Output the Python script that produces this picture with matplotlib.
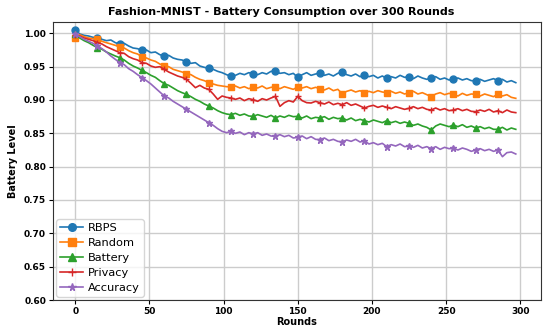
import matplotlib
matplotlib.use("Agg")
import matplotlib.pyplot as plt
import numpy as np

rounds = list(range(0, 300, 3))

rbps = [1.005, 0.999, 0.997, 0.996, 0.994,
        0.9925, 0.991, 0.989, 0.990, 0.986,
        0.984, 0.985, 0.981, 0.978, 0.977,
        0.9745, 0.975, 0.971, 0.972, 0.968,
        0.966, 0.967, 0.963, 0.961, 0.960,
        0.957, 0.955, 0.956, 0.951, 0.949,
        0.9475, 0.946, 0.943, 0.941, 0.938,
        0.9355, 0.937, 0.940, 0.938, 0.941,
        0.9395, 0.938, 0.941, 0.939, 0.943,
        0.943, 0.940, 0.941, 0.938, 0.940,
        0.934, 0.938, 0.941, 0.937, 0.939,
        0.9405, 0.937, 0.939, 0.936, 0.940,
        0.942, 0.938, 0.936, 0.939, 0.935,
        0.937, 0.935, 0.937, 0.933, 0.936,
        0.9325, 0.935, 0.933, 0.937, 0.934,
        0.935, 0.932, 0.936, 0.933, 0.931,
        0.933, 0.935, 0.931, 0.933, 0.930,
        0.9315, 0.933, 0.930, 0.932, 0.929,
        0.929, 0.931, 0.928, 0.930, 0.932,
        0.929, 0.931, 0.927, 0.929, 0.926]

random_ = [0.9935, 0.998, 0.995, 0.993, 0.992,
           0.991, 0.988, 0.986, 0.984, 0.982,
           0.9795, 0.978, 0.974, 0.971, 0.969,
           0.965, 0.963, 0.960, 0.958, 0.954,
           0.951, 0.950, 0.946, 0.944, 0.942,
           0.9395, 0.938, 0.934, 0.931, 0.929,
           0.926, 0.924, 0.922, 0.921, 0.920,
           0.9195, 0.921, 0.918, 0.920, 0.917,
           0.9195, 0.918, 0.921, 0.917, 0.919,
           0.9195, 0.917, 0.920, 0.918, 0.916,
           0.9195, 0.918, 0.920, 0.917, 0.919,
           0.917, 0.915, 0.918, 0.914, 0.916,
           0.9095, 0.913, 0.915, 0.912, 0.914,
           0.9105, 0.913, 0.911, 0.914, 0.912,
           0.911, 0.913, 0.910, 0.912, 0.909,
           0.911, 0.913, 0.909, 0.911, 0.908,
           0.905, 0.909, 0.911, 0.908, 0.910,
           0.9085, 0.906, 0.910, 0.907, 0.909,
           0.9085, 0.906, 0.909, 0.907, 0.905,
           0.909, 0.906, 0.908, 0.904, 0.9025]

battery = [0.9985, 0.993, 0.989, 0.986, 0.982,
           0.9785, 0.976, 0.972, 0.969, 0.966,
           0.9635, 0.960, 0.955, 0.951, 0.948,
           0.9445, 0.941, 0.937, 0.934, 0.929,
           0.9245, 0.922, 0.918, 0.914, 0.911,
           0.9085, 0.905, 0.901, 0.898, 0.894,
           0.891, 0.888, 0.884, 0.881, 0.879,
           0.878, 0.880, 0.877, 0.879, 0.876,
           0.8755, 0.878, 0.876, 0.874, 0.877,
           0.873, 0.876, 0.874, 0.877, 0.875,
           0.8755, 0.873, 0.876, 0.872, 0.874,
           0.873, 0.875, 0.871, 0.874, 0.872,
           0.873, 0.870, 0.873, 0.869, 0.871,
           0.869, 0.867, 0.870, 0.868, 0.866,
           0.869, 0.866, 0.868, 0.865, 0.867,
           0.865, 0.862, 0.864, 0.861, 0.859,
           0.855, 0.861, 0.864, 0.862, 0.860,
           0.8625, 0.860, 0.863, 0.859, 0.861,
           0.858, 0.860, 0.857, 0.859, 0.856,
           0.856, 0.859, 0.855, 0.858, 0.856]

privacy = [0.9975, 0.996, 0.993, 0.991, 0.989,
           0.986, 0.984, 0.980, 0.977, 0.974,
           0.971, 0.970, 0.965, 0.962, 0.960,
           0.956, 0.955, 0.951, 0.949, 0.950,
           0.946, 0.942, 0.939, 0.936, 0.934,
           0.931, 0.925, 0.9185, 0.922, 0.918,
           0.916, 0.909, 0.901, 0.906, 0.904,
           0.903, 0.901, 0.903, 0.899, 0.902,
           0.9005, 0.898, 0.902, 0.900, 0.903,
           0.9055, 0.8905, 0.896, 0.899, 0.897,
           0.9055, 0.899, 0.896, 0.8955, 0.898,
           0.896, 0.894, 0.897, 0.893, 0.895,
           0.893, 0.896, 0.892, 0.894, 0.891,
           0.888, 0.8905, 0.892, 0.889, 0.891,
           0.889, 0.887, 0.890, 0.888, 0.886,
           0.8875, 0.890, 0.887, 0.889, 0.886,
           0.885, 0.888, 0.885, 0.887, 0.884,
           0.885, 0.887, 0.884, 0.886, 0.883,
           0.8825, 0.885, 0.883, 0.886, 0.882,
           0.884, 0.881, 0.885, 0.882, 0.881]

accuracy = [0.9985, 0.995, 0.991, 0.988, 0.985,
            0.981, 0.977, 0.972, 0.966, 0.961,
            0.956, 0.953, 0.947, 0.943, 0.938,
            0.9335, 0.929, 0.924, 0.918, 0.912,
            0.906, 0.903, 0.898, 0.894, 0.890,
            0.886, 0.882, 0.878, 0.874, 0.870,
            0.866, 0.862, 0.857, 0.853, 0.851,
            0.853, 0.850, 0.852, 0.848, 0.851,
            0.849, 0.851, 0.847, 0.849, 0.846,
            0.8455, 0.848, 0.845, 0.847, 0.843,
            0.844, 0.846, 0.842, 0.845, 0.841,
            0.8405, 0.843, 0.839, 0.841, 0.838,
            0.837, 0.840, 0.838, 0.841, 0.837,
            0.839, 0.834, 0.836, 0.833, 0.835,
            0.830, 0.833, 0.831, 0.834, 0.830,
            0.831, 0.829, 0.832, 0.828, 0.830,
            0.827, 0.830, 0.826, 0.829, 0.827,
            0.8275, 0.825, 0.828, 0.826, 0.823,
            0.825, 0.827, 0.824, 0.826, 0.823,
            0.825, 0.815, 0.821, 0.822, 0.819]

labels = ["RBPS", "Random", "Battery", "Privacy", "Accuracy"]
series = [rbps, random_, battery, privacy, accuracy]
markers = ["o", "s", "^", "+", "*"]
colors = ["#1f77b4", "#ff7f0e", "#2ca02c", "#d62728", "#9467bd"]

fig = plt.figure(figsize=(5.5, 3.35), dpi=100)
ax = fig.add_axes([53/550, 1 - 300/335, (541 - 53)/550, (300 - 22)/335])

for lab, vals, m, c in zip(labels, series, markers, colors):
    ax.plot(rounds, vals, marker=m, markevery=5, color=c, label=lab,
            linewidth=1.2, markersize=5, markeredgewidth=1.0)

ax.set_xlim(-15, 314)
ax.set_ylim(0.6, 1.017)
ax.set_xticks([0, 50, 100, 150, 200, 250, 300])
ax.set_yticks(np.arange(0.60, 1.001, 0.05))
ax.set_yticklabels([f"{v:.2f}" for v in np.arange(0.60, 1.001, 0.05)])
ax.grid(True, color="#cccccc", linewidth=1.0)
ax.set_axisbelow(True)
for s in ax.spines.values():
    s.set_color("#333333")
    s.set_linewidth(0.8)

ax.tick_params(axis="both", labelsize=6.5, length=3, width=0.8, pad=2)
for t in ax.get_xticklabels() + ax.get_yticklabels():
    t.set_fontweight("bold")

ax.set_xlabel("Rounds", fontsize=7, fontweight="bold", labelpad=1)
ax.set_ylabel("Battery Level", fontsize=7, fontweight="bold", labelpad=4)
ax.set_title("Fashion-MNIST - Battery Consumption over 300 Rounds",
             fontsize=8, fontweight="bold", pad=5, x=0.468)

leg = ax.legend(loc="lower left", fontsize=8.2, handlelength=2.0,
                borderpad=0.35, labelspacing=0.42, handletextpad=0.4,
                borderaxespad=0.3, framealpha=0.8, markerscale=1.1)

fig.savefig("out.png", dpi=100)
